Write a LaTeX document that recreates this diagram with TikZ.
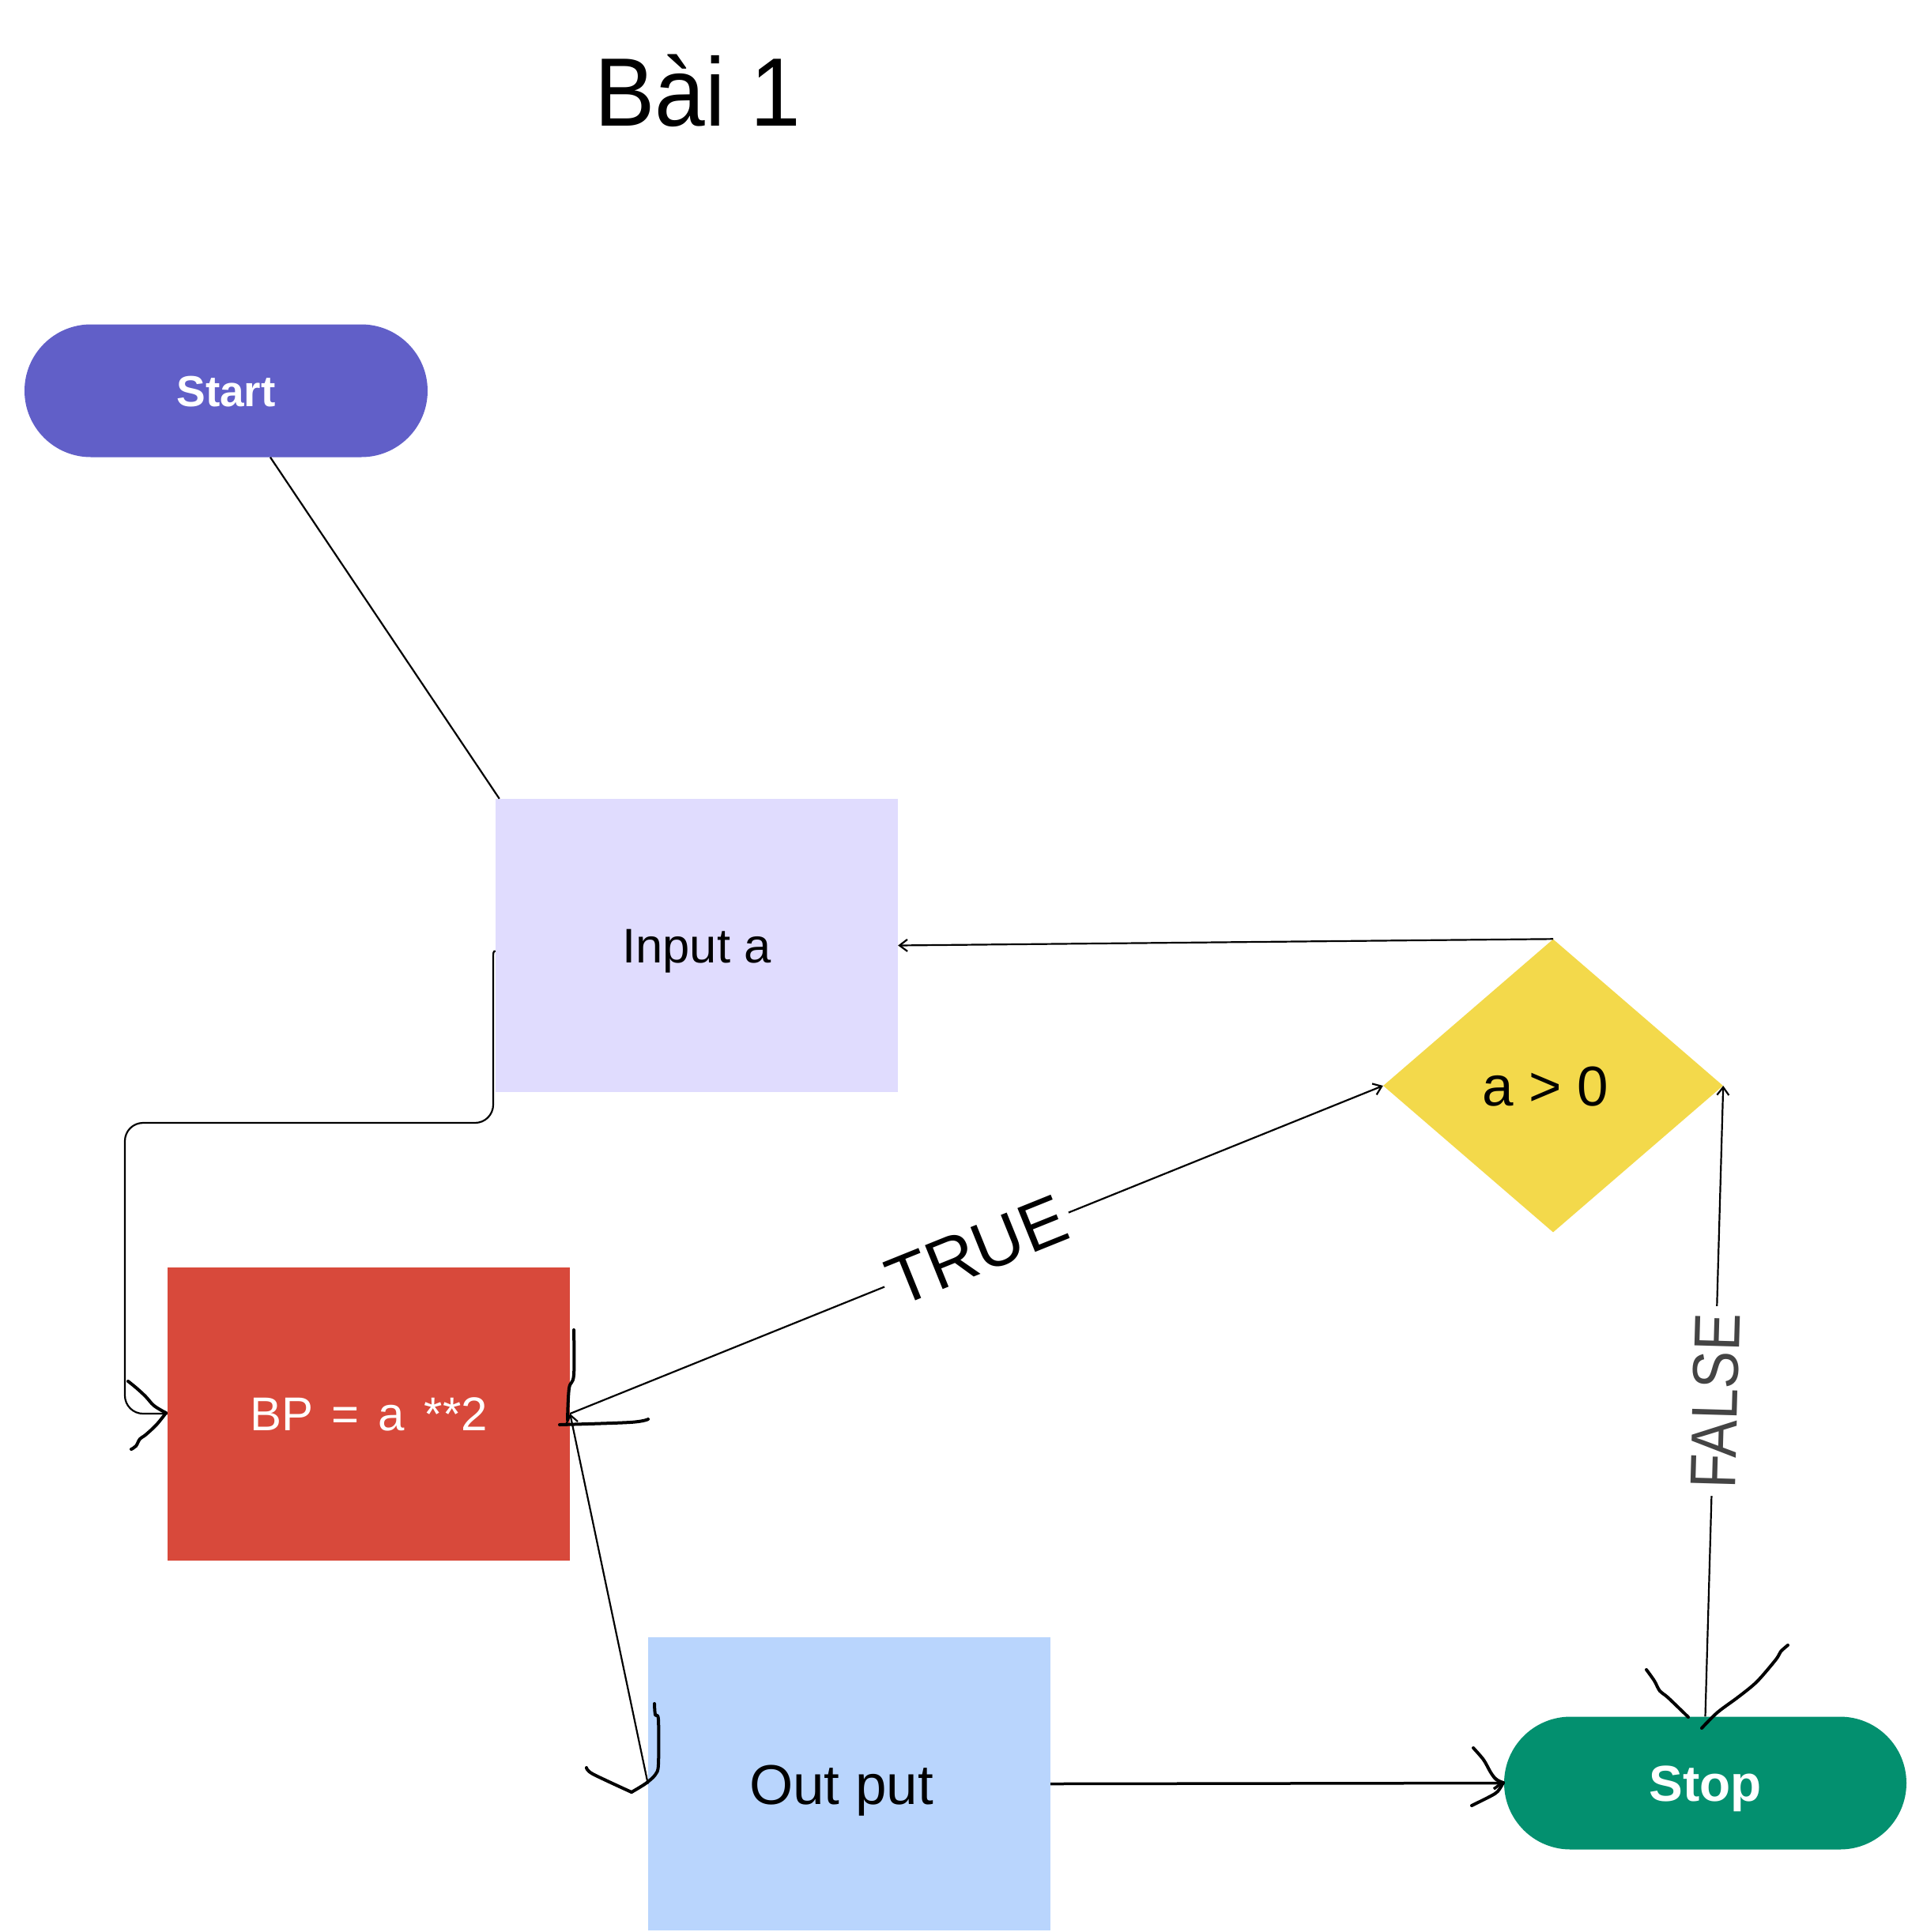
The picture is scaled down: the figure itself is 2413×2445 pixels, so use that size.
\documentclass[tikz,border=0pt]{standalone}
\usepackage{fontspec}
\setmainfont{Liberation Sans}
\usetikzlibrary{arrows.meta,shapes.geometric,calc}
\definecolor{cStart}{HTML}{615FC8}
\definecolor{cIn}{HTML}{E0DCFE}
\definecolor{cDia}{HTML}{F3D94B}
\definecolor{cBP}{HTML}{D8493B}
\definecolor{cOut}{HTML}{B9D5FD}
\definecolor{cStop}{HTML}{03906F}
\definecolor{cGray}{HTML}{444444}
\begin{document}
\begin{tikzpicture}[x=1pt,y=-1pt,
  box/.style={rectangle, draw=none, inner sep=0pt, minimum width=509pt, minimum height=371pt, text depth=0pt},
  pill/.style={rectangle, rounded corners=84pt, draw=none, minimum width=510pt, minimum height=168pt, inner sep=0pt, text=white, text depth=0pt},
  conn/.style={line width=2.2pt, black},
  arr/.style={conn, -{Straight Barb[length=10pt,width=15pt]}},
  hand/.style={line width=4pt, line cap=round, line join=round},
  lbl/.style={sloped, fill=white, text depth=0pt},
]
\useasboundingbox (0,0) rectangle (2413,2445);

% title
\node[font=\fontsize{123}{123}\selectfont, anchor=base, inner sep=0pt] (title) at (883,159) {\scalebox{0.93}[1]{Bài 1}};

% nodes
\node[pill, fill=cStart, font=\fontsize{55}{55}\selectfont\bfseries, text height=39.5pt] (start) at (286,494.5) {Start};
\node[pill, fill=cStop, minimum width=509pt, font=\fontsize{64}{64}\selectfont\bfseries, text height=46pt] (stop) at (2157.5,2256.5) {Stop};
\node[box, fill=cIn, font=\fontsize{61.5}{61.5}\selectfont, text height=44pt] (in) at (881.5,1196.5) {Input a};
\node[box, fill=cBP, text=white, font=\fontsize{60}{60}\selectfont, text height=43pt] (bp) at (466.5,1789) {BP\ \kern7pt=\ \kern7pt a\ \kern8pt**2};
\node[box, fill=cOut, font=\fontsize{71}{71}\selectfont, text height=51pt] (out) at (1074.5,2257.5) {Out put\hspace*{20pt}};
\node[diamond, fill=cDia, draw=none, minimum width=430pt, minimum height=371pt, inner sep=0pt, font=\fontsize{71}{71}\selectfont, text height=51pt, text depth=0pt] (dia) at (1965,1374) {a > 0\hspace*{20pt}};

% connectors
\draw[conn] ($(start.south)+(56,0)$) -- ($(in.north west)+(5,0)$);
\draw[arr] (dia.north) -- (in.east);
\draw[conn] ($(in.west)+(0,7)$) .. controls (624,1204) .. (624,1218) [rounded corners=23pt] -- (624,1421) -- (158,1421) -- (158,1789) -- (bp.west);
\draw[arr] (bp.east) -- node[lbl, inner sep=7pt, font=\fontsize{87}{87}\selectfont, text height=62pt] (truelbl) {TRUE} (dia.west);
\draw[arr] (stop.north) -- node[lbl, inner sep=9pt, text=cGray, font=\fontsize{82}{82}\selectfont, text height=59pt] (falselbl) {\scalebox{0.87}[1]{FALSE}} (dia.east);
\draw[arr] (out.west) -- (bp.east);
\draw[arr, line width=3.5pt] (out.east) -- (stop.west);

% hand-drawn strokes
\draw[hand] plot[smooth, tension=0.6] coordinates {(162,1748) (172,1756) (184,1767) (195,1779) (210,1788)};
\draw[hand] plot[smooth, tension=0.6] coordinates {(210,1788) (198,1803) (184,1816) (177,1821) (172,1830) (166,1834)};
\draw[hand] plot[smooth, tension=0.6] coordinates {(726,1683) (726,1740) (720,1757) (718,1797)};
\draw[hand] plot[smooth, tension=0.6] coordinates {(708,1803) (797,1800) (820,1796)};
\draw[hand] plot[smooth, tension=0.5] coordinates {(828,2156) (829,2170) (833,2176) (833,2233) (829,2246) (817,2257) (799,2268)};
\draw[hand] plot[smooth, tension=0.5] coordinates {(742,2237) (750,2245) (799,2268)};
\draw[hand] plot[smooth, tension=0.5] coordinates {(2083,2113) (2093,2127) (2100,2140) (2110,2148) (2136,2173)};
\draw[hand] plot[smooth, tension=0.5] coordinates {(2262,2082) (2253,2090) (2247,2100) (2223,2128) (2200,2147) (2173,2167) (2153,2187)};
\draw[hand] plot[smooth, tension=0.5] coordinates {(1864,2212) (1877,2227) (1886,2243) (1893,2252) (1902,2256)};
\draw[hand] plot[smooth, tension=0.5] coordinates {(1902,2256) (1895,2267) (1886,2273) (1862,2285)};
\end{tikzpicture}
\end{document}
